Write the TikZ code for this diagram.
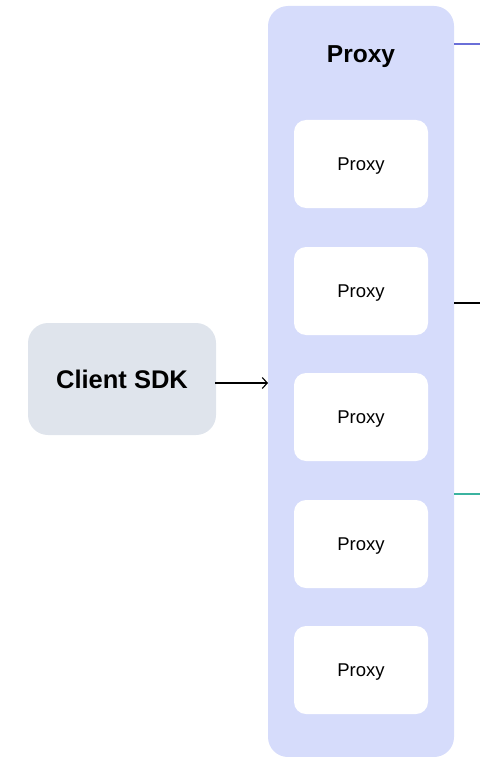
\documentclass[tikz,border=0pt]{standalone}
\usepackage{fontspec}
\setmainfont{Liberation Sans}
\usetikzlibrary{arrows.meta}
\definecolor{groupfill}{HTML}{D6DCFB}
\definecolor{clientfill}{HTML}{DFE4EC}
\definecolor{linkblue}{HTML}{6A6FD8}
\definecolor{linkteal}{HTML}{3BB3A0}
\tikzset{
  px/.style={x=1pt,y=-1pt},
  groupbox/.style={fill=groupfill,draw=none,rounded corners=20pt},
  proxybox/.style={fill=white,draw=none,rounded corners=12pt,minimum width=134pt,minimum height=88pt,
    text depth=0pt,font=\fontsize{18.5}{22}\selectfont},
  clientbox/.style={fill=clientfill,draw=none,rounded corners=20pt,minimum width=188pt,minimum height=112pt,
    text depth=0pt,font=\fontsize{25.5}{30}\selectfont\bfseries},
  heading/.style={text depth=0pt,font=\fontsize{24.5}{29}\selectfont\bfseries},
  link/.style={line width=1.3pt},
  feed/.style={line width=1.1pt,-{Straight Barb[length=5pt,width=11pt,line width=1.1pt]}}
}
\begin{document}
\begin{tikzpicture}[px]
  \useasboundingbox (0,0) rectangle (480,757);
  % proxy group
  \path[groupbox] (268,6) rectangle (454,757);
  \coordinate (grpW) at (268,383);
  \node[heading] (title) at (361,54) {Proxy};
  % proxy instances
  \node[proxybox] (p1) at (361,164) {Proxy};
  \node[proxybox] (p2) at (361,291) {Proxy};
  \node[proxybox] (p3) at (361,417) {Proxy};
  \node[proxybox] (p4) at (361,544) {Proxy};
  \node[proxybox] (p5) at (361,670) {Proxy};
  % client
  \node[clientbox] (client) at (122,379) {Client SDK};
  \draw[feed] (215,383) -- (grpW);
  % outgoing links
  \coordinate (o1a) at (454,44);  \coordinate (o1b) at (480,44);
  \coordinate (o2a) at (454,303); \coordinate (o2b) at (480,303);
  \coordinate (o3a) at (454,494); \coordinate (o3b) at (480,494);
  \draw[link,linkblue] (o1a) -- (o1b);
  \draw[link,black] (o2a) -- (o2b);
  \draw[link,linkteal] (o3a) -- (o3b);
\end{tikzpicture}
\end{document}
